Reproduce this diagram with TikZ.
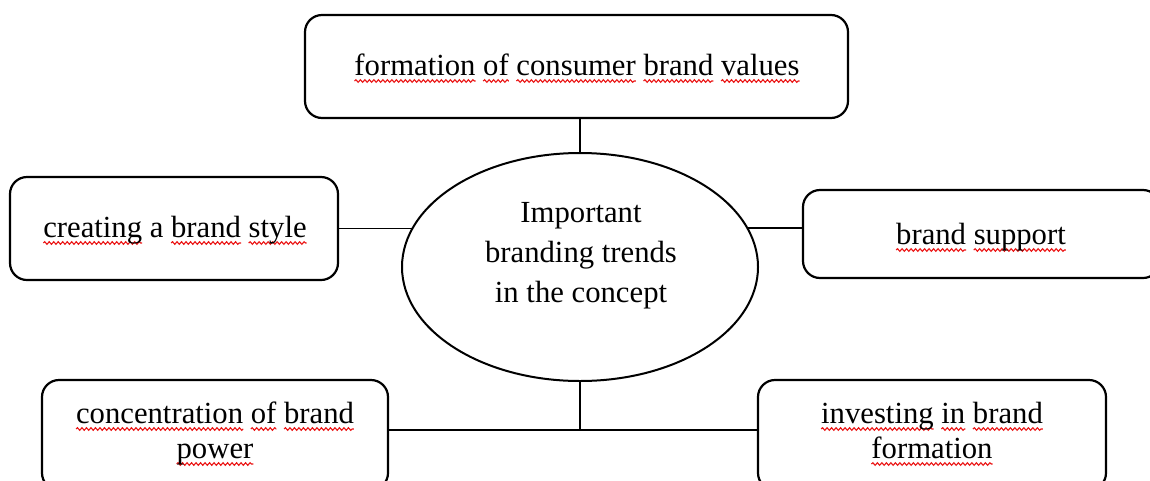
\documentclass[tikz,border=0pt]{standalone}
\usepackage{fontspec}
\setmainfont{Liberation Serif}
\usetikzlibrary{shapes.geometric,decorations.pathmorphing}
\definecolor{spellred}{RGB}{235,20,20}
\newlength\sqlen
\tikzset{
  spell/.style={spellred,line width=1.1pt,decorate,decoration={snake,amplitude=1.3pt,segment length=4.5pt}},
  box/.style={draw=black,line width=2.2pt,rounded corners=17pt,rectangle,inner sep=0pt},
  txt/.style={anchor=base,inner sep=0pt,font=\fontsize{30.7}{36}\selectfont},
  link/.style={draw=black,line width=1.3pt},
}
\newcommand\sqw[1]{\settowidth\sqlen{#1}\rlap{\tikz[overlay,baseline=0pt]\draw[spell] (0pt,-6pt) -- (\sqlen,-6pt);}#1}
\begin{document}
\begin{tikzpicture}[x=1pt,y=-1pt]
\useasboundingbox (0,0) rectangle (1150,480);
\clip (0,0) rectangle (1150,480);
\fill[white] (0,0) rectangle (1150,480);
% boxes
\node[box,minimum width=543pt,minimum height=103pt] (T) at (576.5,66.5) {};
\node[box,minimum width=328pt,minimum height=103pt] (L) at (174,228.5) {};
\node[box,minimum width=357pt,minimum height=88pt] (R) at (981.5,234) {};
\node[box,minimum width=346pt,minimum height=110pt] (BL) at (215,435) {};
\node[box,minimum width=348pt,minimum height=110pt] (BR) at (932,435) {};
\node[draw=black,line width=2pt,ellipse,minimum width=356pt,minimum height=228pt,inner sep=0pt] (E) at (580,267) {};
% texts
\node[txt] (tT) at (577,75) {\sqw{formation} \sqw{of} \sqw{consumer} \sqw{brand} \sqw{values}};
\node[txt] (tL) at (175,237) {\sqw{creating} a \sqw{brand} \sqw{style}};
\node[txt] (tR) at (981,244) {\sqw{brand} \sqw{support}};
\node[txt] (tBL1) at (215,423) {\sqw{concentration} \sqw{of} \sqw{brand}};
\node[txt] (tBL2) at (215,458) {\sqw{power}};
\node[txt] (tBR1) at (932,423) {\sqw{investing} \sqw{in} \sqw{brand}};
\node[txt] (tBR2) at (932,458) {\sqw{formation}};
\node[txt] (tE1) at (581,222) {Important};
\node[txt] (tE2) at (581,262) {branding trends};
\node[txt] (tE3) at (581,302) {in the concept};
% connectors
\coordinate (J) at (580,430);
\draw[link] (E.north) -- (E.north |- T.south);
\draw[link] (L.east) -- (L.east -| E.166.9);
\draw[link] (E.13.1) -- (E.13.1 -| R.west);
\draw[link] (E.south) -- (J);
\draw[link] (BL.east |- J) -- (BR.west |- J);
\end{tikzpicture}
\end{document}
